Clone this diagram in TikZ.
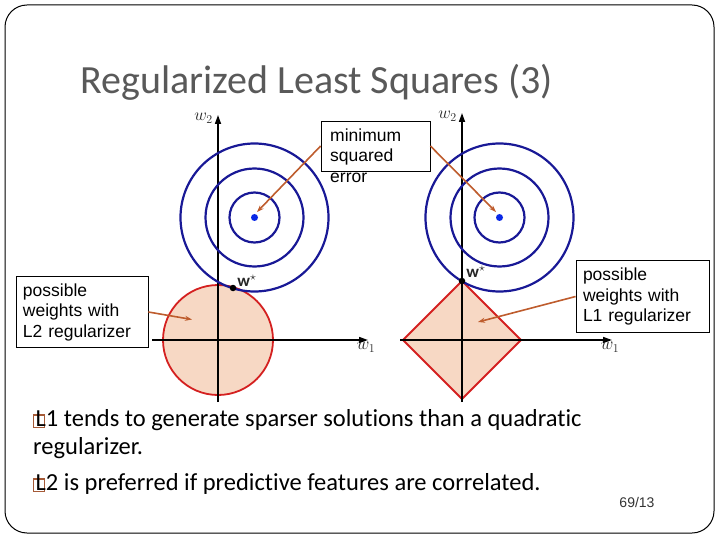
\documentclass[tikz,border=0pt]{standalone}
\usepackage{amsmath,amssymb}
\usepackage{fontspec}
\setmainfont{Carlito}[Ligatures=NoCommon]
\newfontfamily\calloutfont{Liberation Sans}
\usetikzlibrary{arrows.meta}
\definecolor{titlegray}{RGB}{89,89,89}
\definecolor{contourblue}{RGB}{25,25,150}
\definecolor{dotblue}{RGB}{10,40,230}
\definecolor{regred}{RGB}{212,32,32}
\definecolor{regfill}{RGB}{247,216,196}
\definecolor{pointercol}{RGB}{190,92,45}
\definecolor{bulletbrown}{RGB}{165,90,55}
\tikzset{lbl/.style={draw=none, fill=none, inner sep=1pt,
  text=black!85, font=\fontsize{17}{17}\selectfont}}
\newcommand{\nobullet}{\rlap{\color{bulletbrown}\setlength{\fboxrule}{1.2pt}%
  \setlength{\fboxsep}{0pt}\raisebox{-1pt}{\fbox{\rule{0pt}{11.6pt}\hspace{9.6pt}}}}\hspace{2.5pt}}

\begin{document}
\begin{tikzpicture}[x=1pt, y=-1pt,
  axis/.style={-{Triangle[length=9pt, width=6pt]}, line width=1.6pt},
  contour/.style={draw=contourblue, line width=2.2pt},
  region/.style={draw=regred, fill=regfill, line width=1.8pt},
  callbox/.style={draw, line width=0.8pt, fill=white, inner xsep=7pt,
    inner ysep=7pt, align=left, font=\calloutfont\fontsize{17.5}{20.5}\selectfont},
  calltext/.style={inner sep=0pt, align=left,
    font=\calloutfont\fontsize{17.5}{20.5}\selectfont},
  pointer/.style={-{Stealth[length=7pt, width=5pt]}, draw=pointercol, line width=1.6pt},
  sol/.style={circle, fill=black, inner sep=0pt, minimum size=6.5pt},
  minpt/.style={circle, fill=dotblue, inner sep=0pt, minimum size=7pt},
  bullet/.style={inner sep=0pt, align=left, font=\fontsize{24.5}{28}\selectfont}]
  \useasboundingbox (0,0) rectangle (720,540);
  \draw[line width=1pt, rounded corners=22pt] (5,5) rectangle (714,533);
  \node[anchor=base west, inner sep=0pt, text=titlegray,
    font=\fontsize{40}{40}\selectfont] (title) at (80,94) {Regularized Least Squares (3)};

  % L2 picture
  \coordinate (o1) at (218,340);
  \coordinate (c1) at (254.5,217.5);
  \draw[region] (o1) circle[radius=55];
  \coordinate (x1a) at (152,340);
  \coordinate (x1b) at (368,340);
  \coordinate (y1a) at (218,402);
  \coordinate (y1b) at (218,115);
  \draw[axis] (x1a) -- (x1b);
  \draw[axis] (y1a) -- (y1b);
  \foreach \r in {25,49,74}
    \draw[contour] (c1) circle[radius=\r];
  \node[minpt] (m1) at (c1) {};
  \node[sol] (ws1) at (233,288) {};
  \node[lbl] (wl1) at (247,281) {$\mathbf{w}^{\star}$};
  \node[lbl, anchor=east] (w2a) at (214,118) {$w_2$};
  \node[lbl, anchor=north] (w1a) at (366,341) {$w_1$};

  % L1 picture
  \coordinate (o2) at (462,340);
  \coordinate (c2) at (499.5,217.5);
  \draw[region] (o2) ++(-59,0) -- ++(59,-59) -- ++(59,59) -- ++(-59,59) -- cycle;
  \coordinate (x2a) at (400,340);
  \coordinate (x2b) at (612,340);
  \coordinate (y2a) at (462,402);
  \coordinate (y2b) at (462,113);
  \draw[axis] (x2a) -- (x2b);
  \draw[axis] (y2a) -- (y2b);
  \foreach \r in {25,49,74}
    \draw[contour] (c2) circle[radius=\r];
  \node[minpt] (m2) at (c2) {};
  \node[sol] (ws2) at (462,281) {};
  \node[lbl] (wl2) at (476,272) {$\mathbf{w}^{\star}$};
  \node[lbl, anchor=east] (w2b) at (458,116) {$w_2$};
  \node[lbl, anchor=north] (w1b) at (610,341) {$w_1$};

  % callouts
  \node[callbox, minimum width=109pt, minimum height=50pt] (mseBox) at (375.5,146) {};
  \node[calltext, anchor=north west] (mseText) at (330,128.5) {minimum\\squared\\error};
  \node[callbox, text width=118pt] (l2Box) at (82,312) {possible\\weights with\\L2 regularizer};
  \node[callbox, text width=119pt] (l1Box) at (642.5,296.5) {possible\\weights with\\L1 regularizer};
  \coordinate (tipA) at (257,212);
  \coordinate (tipB) at (496,212);
  \coordinate (tipC) at (192,319.5);
  \coordinate (tipD) at (478,322);
  \draw[pointer] (mseBox.west) -- (tipA);
  \draw[pointer] (mseBox.east) -- (tipB);
  \draw[pointer] (l2Box.east) -- (tipC);
  \draw[pointer] (l1Box.west) -- (tipD);

  % bullets
  \node[bullet, anchor=north west] (bulletA) at (33,409)
    {\nobullet L1 tends to generate sparser solutions than a quadratic\\regularizer.};
  \node[bullet, anchor=north west] (bulletB) at (33,473)
    {\nobullet L2 is preferred if predictive features are correlated.};
  \node[text=black!80, font=\calloutfont\fontsize{14}{14}\selectfont] (pageno) at (637,502) {69/13};
\end{tikzpicture}
\end{document}
